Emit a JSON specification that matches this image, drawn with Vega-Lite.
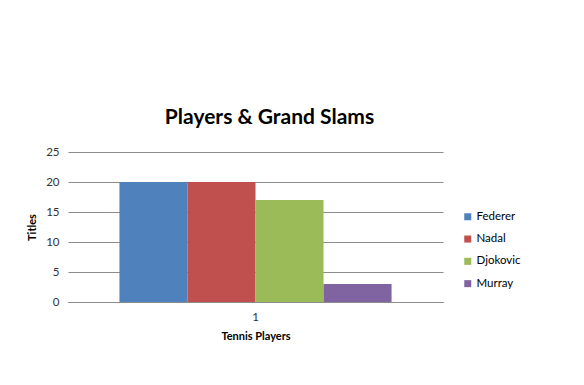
{
  "$schema": "https://vega.github.io/schema/vega-lite/v6.json",
  "width": 375,
  "height": 150,
  "autosize": {"type": "none"},
  "padding": {"left": 68, "top": 152, "right": 141, "bottom": 83},
  "background": "white",
  "config": {
    "font": "Lato",
    "view": {"stroke": null}
  },
  "title": {
    "text": "Players & Grand Slams",
    "fontSize": 21,
    "fontWeight": "bold",
    "font": "Lato",
    "color": "#000000",
    "anchor": "middle",
    "frame": "group",
    "dx": 14,
    "offset": 18
  },
  "data": {
    "values": [
      {"cat": "1", "player": "Federer", "titles": 20},
      {"cat": "1", "player": "Nadal", "titles": 20},
      {"cat": "1", "player": "Djokovic", "titles": 17},
      {"cat": "1", "player": "Murray", "titles": 3}
    ]
  },
  "mark": {"type": "bar"},
  "encoding": {
    "x": {
      "field": "cat",
      "type": "nominal",
      "scale": {"paddingInner": 0, "paddingOuter": 0.189},
      "axis": {
        "title": "Tennis Players",
        "titleFontSize": 11,
        "titleFontWeight": "bold",
        "titleColor": "#000000",
        "titlePadding": 8,
        "labelAngle": 0,
        "labelFontSize": 11.5,
        "labelColor": "#333333",
        "labelPadding": 9,
        "ticks": false,
        "domainColor": "#8c8c8c"
      }
    },
    "xOffset": {
      "field": "player",
      "type": "nominal",
      "sort": ["Federer", "Nadal", "Djokovic", "Murray"],
      "scale": {"paddingInner": 0, "paddingOuter": 0}
    },
    "y": {
      "field": "titles",
      "type": "quantitative",
      "scale": {"domain": [0, 25]},
      "axis": {
        "title": "Titles",
        "titleFontSize": 11,
        "titleFontWeight": "bold",
        "titleColor": "#000000",
        "titlePadding": 8,
        "values": [0, 5, 10, 15, 20, 25],
        "labelFontSize": 11.5,
        "labelColor": "#333333",
        "labelPadding": 9,
        "ticks": false,
        "domain": false,
        "gridColor": "#8c8c8c",
        "gridOpacity": 1
      }
    },
    "color": {
      "field": "player",
      "type": "nominal",
      "sort": ["Federer", "Nadal", "Djokovic", "Murray"],
      "scale": {
        "domain": ["Federer", "Nadal", "Djokovic", "Murray"],
        "range": ["#4F81BD", "#C0504D", "#9BBB59", "#8064A2"]
      },
      "legend": {
        "title": null,
        "orient": "none",
        "legendX": 394,
        "legendY": 59,
        "symbolType": "square",
        "symbolSize": 49,
        "symbolStrokeWidth": 0,
        "labelFontSize": 11.5,
        "labelColor": "#000000",
        "rowPadding": 9.3,
        "labelOffset": 3
      }
    }
  }
}
